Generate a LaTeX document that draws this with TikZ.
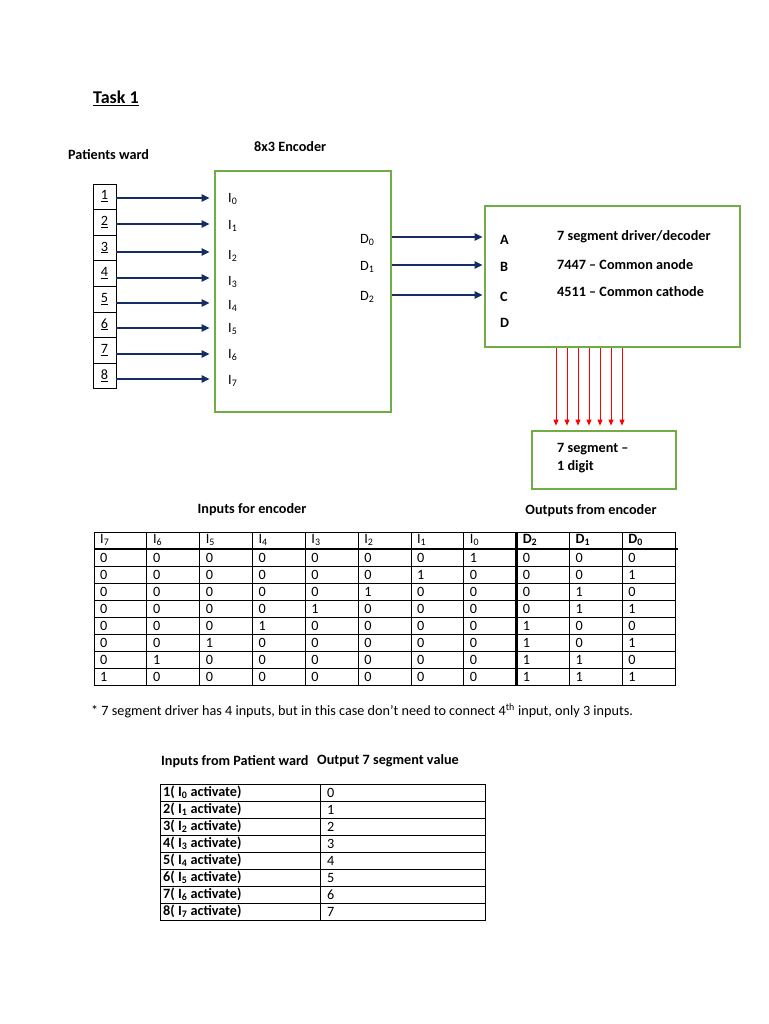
\documentclass[tikz,border=0pt]{standalone}
\usepackage{fontspec}
\setmainfont{Carlito}
\usetikzlibrary{arrows.meta,positioning}

\definecolor{boxgreen}{RGB}{112,173,71}
\definecolor{wirenavy}{RGB}{22,44,100}

\begin{document}
\begin{tikzpicture}[x=1pt,y=-1pt,
	every node/.style={font=\fontsize{14.2}{17}\selectfont, inner sep=0pt},
	bold/.style={font=\fontsize{14.2}{17}\selectfont\bfseries},
	block/.style={draw=boxgreen, line width=2.8pt},
	ward/.style={draw, line width=0.8pt, minimum width=23pt, minimum height=25.6pt},
	wire/.style={wirenavy, line width=2.4pt, -{Triangle[length=8pt,width=7pt]}},
	seg/.style={red, line width=0.9pt, -{Triangle[length=6pt,width=5pt]}},
	thin/.style={line width=0.8pt},
	thick/.style={line width=2.4pt}]
	\useasboundingbox[fill=white] (0,0) rectangle (768,1024);

	% headings
	\node[font=\fontsize{18}{20}\selectfont\bfseries, anchor=west] (task) at (93,98) {\underline{Task 1}};
	\node[bold, anchor=west] (wardlbl) at (68,155) {Patients ward};
	\node[bold, anchor=west] (enclbl) at (254,147) {8x3 Encoder};

	% blocks
	\node[block, minimum width=176pt, minimum height=241pt] (enc) at (303,291.5) {};
	\node[block, minimum width=255pt, minimum height=141pt] (drv) at (612.5,276.5) {};
	\node[block, minimum width=144pt, minimum height=58pt] (disp) at (604,460) {};

	% patients ward inputs
	\foreach \n/\ay/\ly [evaluate=\n as \k using int(\n-1)] in
		{1/198/199,2/224/226,3/252/256,4/278/282,5/303/306,6/328/329,7/354/355,8/379/381} {
		\node[ward] (p\n) at (104.5,{184+25.6*(\n-0.5)}) {\raisebox{3pt}{\underline{\n}}};
		\node[anchor=west] (i\k) at (228,\ly) {I\textsubscript{\k}};
		\draw[wire] (p\n.east |- 0,\ay) -- ([xshift=-4pt]enc.west |- 0,\ay);
	}

	% encoder outputs to driver
	\foreach \k/\ay/\ly/\pin in {0/237/240/A,1/265/267/B,2/295/297/C} {
		\node[anchor=west] (d\k) at (360,\ly) {D\textsubscript{\k}};
		\node[bold, anchor=west] (pin\pin) at (500,\ly) {\pin};
		\draw[wire] (enc.east |- 0,\ay) -- ([xshift=-1pt]drv.west |- 0,\ay);
	}
	\node[bold, anchor=west] (pinD) at (500,323) {D};

	\node[bold, anchor=west] (drvname) at (557,237) {7 segment driver/decoder};
	\node[bold, anchor=west] (anode) at (557,265) {7447 -- Common anode};
	\node[bold, anchor=west] (cathode) at (557,292) {4511 -- Common cathode};

	% segment lines
	\foreach \x in {556,567,578,589,600,611,622}
		\draw[seg] (\x,0 |- drv.south) -- ([yshift=4pt]\x,0 |- disp.north);

	\node[bold, anchor=west] (disp1) at (557,449) {7 segment --};
	\node[bold, anchor=west] (disp2) at (557,467) {1 digit};

	% truth table
	\node[bold] (inhead) at (252,510) {Inputs for encoder};
	\node[bold] (outhead) at (591,511) {Outputs from encoder};

	\draw[thin] (94,532) rectangle (675,685);
	\foreach \r in {1,...,7}
		\draw[thin] (94,{549+17*\r}) -- (675,{549+17*\r});
	\foreach \c in {1,...,10}
		\draw[thin] ({94+52.82*\c},532) -- ({94+52.82*\c},685);
	\draw[thick] (94,549) -- (678,549);
	\draw[thick] (516.5,532) -- (516.5,685);

	\foreach \h [count=\c] in {7,6,5,4,3,2,1,0}
		\node[anchor=west] (th\c) at ({100+52.82*(\c-1)},540) {I\textsubscript{\h}};
	\foreach \h [count=\c from 9] in {2,1,0}
		\node[bold, anchor=west] (th\c) at ({100+52.82*(\c-1)},540) {D\textsubscript{\h}};

	\foreach \row [count=\r] in {
		{0,0,0,0,0,0,0,1,0,0,0},
		{0,0,0,0,0,0,1,0,0,0,1},
		{0,0,0,0,0,1,0,0,0,1,0},
		{0,0,0,0,1,0,0,0,0,1,1},
		{0,0,0,1,0,0,0,0,1,0,0},
		{0,0,1,0,0,0,0,0,1,0,1},
		{0,1,0,0,0,0,0,0,1,1,0},
		{1,0,0,0,0,0,0,0,1,1,1}}
		\foreach \v [count=\c] in \row
			\node[anchor=west] (t\r-\c) at ({100+52.82*(\c-1)},{549+17*(\r-0.5)}) {\v};

	\node[anchor=west] (note) at (91,711)
		{* 7 segment driver has 4 inputs, but in this case don’t need to connect 4\textsuperscript{th} input, only 3 inputs.};

	% ward to display table
	\node[bold, anchor=west] (wardhead) at (161,762) {Inputs from Patient ward};
	\node[bold, anchor=west] (valhead) at (317,761) {Output 7 segment value};

	\draw[thin] (160,784) rectangle (485,920);
	\draw[thin] (320,784) -- (320,920);
	\foreach \r in {1,...,7}
		\draw[thin] (160,{784+17*\r}) -- (485,{784+17*\r});
	\foreach \r [evaluate=\r as \k using int(\r-1)] in {1,...,8} {
		\node[bold, anchor=west] (w\r) at (163,{784+17*(\r-0.5)}) {\r( I\textsubscript{\k} activate)};
		\node[anchor=west] (v\r) at (327,{784+17*(\r-0.5)}) {\k};
	}
\end{tikzpicture}
\end{document}
